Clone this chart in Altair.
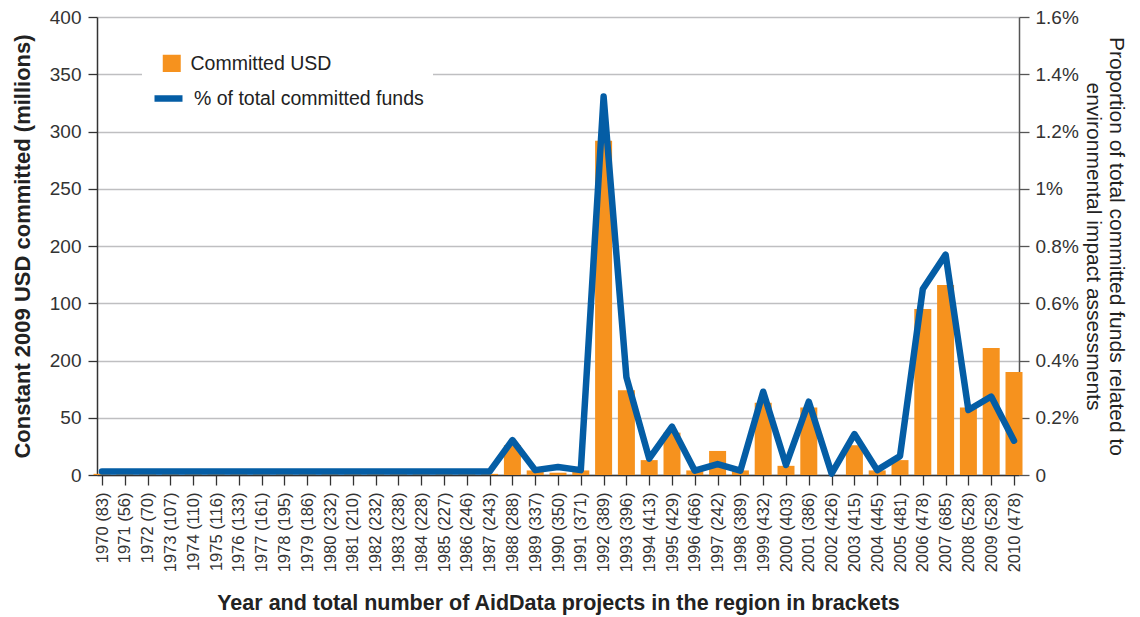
import altair as alt
import pandas as pd

years = list(range(1970, 2011))
projects = [83, 56, 70, 107, 110, 116, 133, 161, 195, 186,
            232, 210, 232, 238, 228, 227, 246, 243, 288, 337,
            350, 371, 389, 396, 413, 429, 466, 242, 389, 432,
            403, 386, 426, 415, 445, 481, 478, 685, 528, 528, 478]
committed_usd = [1, 1, 1, 1, 1, 1, 1, 1, 1, 1,
                 1, 1, 1, 1, 1, 1, 1, 1, 26, 4,
                 2, 4, 292, 74, 13, 37, 4, 21, 4, 63,
                 8, 59, 0, 26, 4, 13, 145, 166, 59, 111, 90]
pct_committed = [0.012, 0.012, 0.012, 0.012, 0.012, 0.012, 0.012, 0.012, 0.012, 0.012,
                 0.012, 0.012, 0.012, 0.012, 0.012, 0.012, 0.012, 0.012, 0.122, 0.017,
                 0.028, 0.017, 1.322, 0.342, 0.057, 0.169, 0.015, 0.038, 0.015, 0.291,
                 0.035, 0.256, 0.005, 0.143, 0.017, 0.066, 0.65, 0.77, 0.227, 0.274, 0.12]

x_labels = [f"{y} ({p})" for y, p in zip(years, projects)]
usd_ticks = [0, 50, 100, 150, 200, 250, 300, 350, 400]
usd_tick_labels = ["0", "50", "200", "100", "200", "250", "300", "350", "400"]
pct_ticks = [0, 0.2, 0.4, 0.6, 0.8, 1.0, 1.2, 1.4, 1.6]

ORANGE = "#F6921E"
BLUE = "#045DA5"
FONT = "Liberation Sans"
DARK = "#333333"

df = pd.DataFrame({
    "year": years,
    "usd": committed_usd,
    "pct": pct_committed,
    "bar_series": "Committed USD",
    "line_series": "% of total committed funds",
})

x_label_expr = "[" + ",".join(f"'{s}'" for s in x_labels) + "][datum.value - 1970]"
usd_label_expr = ("[" + ",".join(f"'{s}'" for s in usd_tick_labels) + "][indexof(["
                  + ",".join(str(v) for v in usd_ticks) + "], datum.value)]")

x_enc = alt.X(
    "year:Q",
    scale=alt.Scale(domain=[1970, 2010], nice=False, zero=False),
    axis=alt.Axis(
        values=years, labelExpr=x_label_expr, labelAngle=270, labelFontSize=16.5,
        labelPadding=7, tickSize=10, tickColor=DARK, tickWidth=1.3, domainColor=DARK,
        domainWidth=1.5, grid=False, labelOverlap=False, labelFlush=False,
        title="Year and total number of AidData projects in the region in brackets",
        titleFontSize=21.5, titleFontWeight="bold", titlePadding=21,
    ),
)

bars = alt.Chart(df).mark_bar(size=17).encode(
    x=x_enc,
    y=alt.Y(
        "usd:Q",
        scale=alt.Scale(domain=[0, 400], nice=False),
        axis=alt.Axis(
            orient="left", values=usd_ticks, labelExpr=usd_label_expr,
            grid=True, gridColor="#BFBFC1", gridWidth=1.5,
            domainColor=DARK, domainWidth=1.5, tickColor=DARK, tickWidth=1.3, tickSize=9,
            labelFontSize=19, labelPadding=7,
            title="Constant 2009 USD committed (millions)",
            titleFontSize=22, titleFontWeight="bold", titlePadding=15,
        ),
    ),
    color=alt.Color(
        "bar_series:N",
        scale=alt.Scale(domain=["Committed USD"], range=[ORANGE]),
        legend=alt.Legend(
            title=None, orient="none", legendX=49, legendY=21,
            symbolType="square", symbolSize=324, symbolStrokeWidth=0, symbolOpacity=1,
            labelFontSize=19.5, labelColor="#222222", labelOffset=9, labelLimit=0,
            padding=16,
        ),
    ),
)

line = alt.Chart(df).mark_line(strokeWidth=6.5, strokeJoin="round", strokeCap="round").encode(
    x=x_enc,
    y=alt.Y(
        "pct:Q",
        scale=alt.Scale(domain=[0, 1.6], nice=False),
        axis=alt.Axis(
            orient="right", values=pct_ticks,
            labelExpr="datum.value == 0 ? '0' : format(datum.value, '.1~f') + '%'",
            grid=False, domainColor="#555555", domainWidth=1.5, tickColor="#555555",
            tickWidth=1.3, tickSize=10, labelFontSize=19, labelPadding=6,
            title=["Proportion of total committed funds related to",
                   "environmental impact assessments"],
            titleFontSize=21, titleFontWeight="normal", titlePadding=4, titleLineHeight=23,
        ),
    ),
    stroke=alt.Stroke(
        "line_series:N",
        scale=alt.Scale(domain=["% of total committed funds"], range=[BLUE]),
        legend=alt.Legend(
            title=None, orient="none", legendX=45, legendY=55,
            symbolType="stroke", symbolSize=784, symbolStrokeWidth=6.5,
            labelFontSize=19.5, labelColor="#222222", labelOffset=8, labelLimit=0,
            fillColor="white", padding=9,
        ),
    ),
)

chart = (
    alt.layer(bars, line)
    .resolve_scale(y="independent")
    .properties(
        width=922, height=458,
        autosize=alt.AutoSizeParams(type="none"),
        padding={"left": 89, "top": 9, "right": 113, "bottom": 140},
    )
    .configure(font=FONT)
    .configure_view(stroke=None)
    .configure_axis(labelColor=DARK, titleColor="#222222", labelFont=FONT, titleFont=FONT)
    .configure_legend(labelFont=FONT)
)

chart.save("out.html", embed_options={"renderer": "svg", "actions": False})
